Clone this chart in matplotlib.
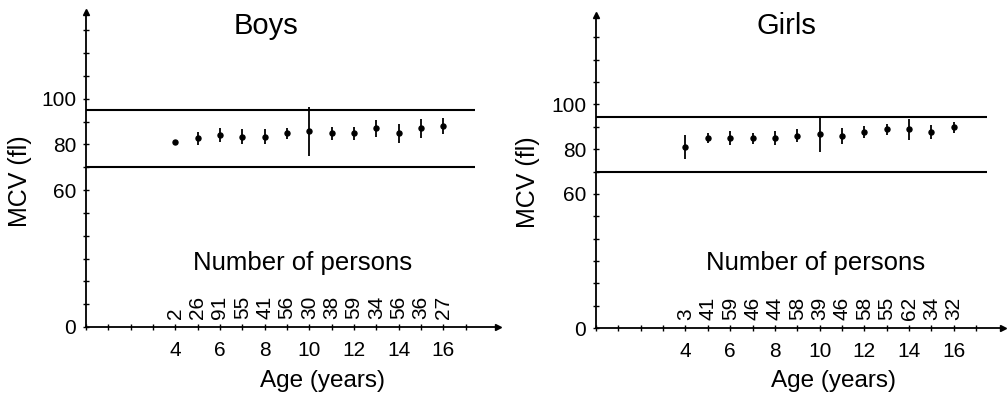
import matplotlib
matplotlib.use("Agg")
import matplotlib.pyplot as plt

plt.rcParams['font.family'] = ['Liberation Sans', 'DejaVu Sans']

ages = [4, 5, 6, 7, 8, 9, 10, 11, 12, 13, 14, 15, 16]

boys_mean = [81.2, 82.6, 84.1, 83.4, 83.4, 84.8, 85.7, 84.8, 84.8, 87.0, 84.8, 87.0, 88.0]
boys_err = [0.0, 2.7, 3.1, 3.4, 3.4, 2.6, 10.8, 2.9, 3.0, 3.6, 4.2, 4.2, 3.4]
boys_n = [2, 26, 91, 55, 41, 56, 30, 38, 59, 34, 56, 36, 27]

girls_mean = [81.1, 84.8, 84.8, 84.8, 84.8, 86.0, 86.7, 85.8, 87.8, 88.8, 88.8, 87.8, 89.7]
girls_err = [5.3, 2.2, 3.1, 2.6, 3.1, 2.8, 8.0, 3.7, 2.75, 2.6, 4.5, 3.2, 2.5]
girls_n = [3, 41, 59, 46, 44, 58, 39, 46, 58, 55, 62, 34, 32]

boys_limits = [95, 70]
girls_limits = [94.5, 70]

x_ticklabels = [4, 6, 8, 10, 12, 14, 16]
y_ticklabels = [0, 60, 80, 100]

W, H = 1007, 395
fig = plt.figure(figsize=(W / 100, H / 100), dpi=100)


def make_panel(rect_px, ymax, xmax, line_end, title, mean, err, n, limits,
               title_pos, nop_pos, ylab_pos):
    l, b_top, r, bottom = rect_px
    ax = fig.add_axes([l / W, 1 - bottom / H, (r - l) / W, (bottom - b_top) / H])
    ax.set_xlim(0, xmax)
    ax.set_ylim(0, ymax)
    for s in ['top', 'right']:
        ax.spines[s].set_visible(False)
    for s in ['left', 'bottom']:
        ax.spines[s].set_linewidth(1.3)
    # arrows at axis ends
    ax.plot([0], [ymax], marker='^', color='black', markersize=4, clip_on=False)
    ax.plot([xmax], [0], marker='>', color='black', markersize=4, clip_on=False)

    ax.set_xticks(range(0, 18))
    ax.set_xticklabels([str(v) if v in x_ticklabels else '' for v in range(0, 18)])
    ax.set_yticks(range(0, 140, 10))
    ax.set_yticklabels([str(v) if v in y_ticklabels else '' for v in range(0, 140, 10)])
    ax.tick_params(axis='x', direction='inout', length=4, width=1, pad=8, labelsize=15)
    ax.tick_params(axis='y', direction='inout', length=4, width=1, pad=5, labelsize=15)

    for lim in limits:
        ax.hlines(lim, 0, line_end, color='black', linewidth=1.5)

    ax.errorbar(ages, mean, yerr=err, fmt='o', color='black', markersize=3.6,
                elinewidth=1.3, capsize=0)

    for a, c in zip(ages, n):
        ax.annotate(str(c), (a, 0), xytext=(0, 6), textcoords='offset points',
                    rotation=90, ha='center', va='bottom', fontsize=15)

    ax.text(title_pos[0], title_pos[1], title, ha='center', va='center', fontsize=21)
    ax.text(nop_pos[0], nop_pos[1], 'Number of persons', ha='center', va='center',
            fontsize=18.5)
    ax.set_xlabel('Age (years)', fontsize=17.5)
    ax.xaxis.set_label_coords(10.6 / xmax, -0.135)
    ax.set_ylabel('MCV (fl)', fontsize=18)
    ax.yaxis.set_label_coords(ylab_pos[0], ylab_pos[1])
    return ax


make_panel((86, 12, 498, 327), 138, 18.45, 17.4, 'Boys', boys_mean, boys_err, boys_n,
           boys_limits, (8.05, 132), (9.7, 28), (-0.131, 0.463))
make_panel((596, 15, 1003, 328), 140, 18.2, 17.5, 'Girls', girls_mean, girls_err, girls_n,
           girls_limits, (8.5, 135), (9.8, 29), (-0.138, 0.466))

fig.savefig('out.png', dpi=100)
